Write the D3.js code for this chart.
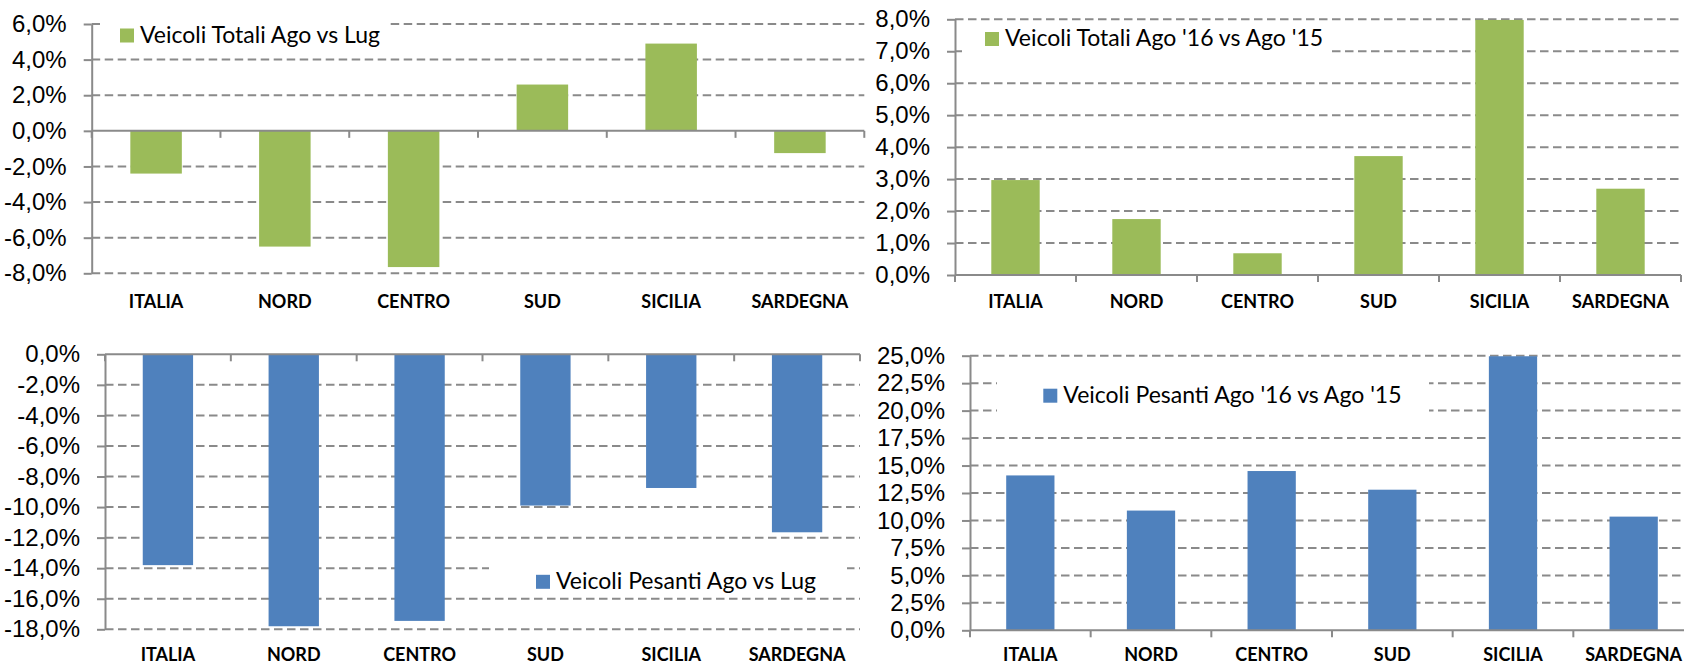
<!DOCTYPE html>
<html>
<head>
<meta charset="utf-8">
<script src="https://cdn.jsdelivr.net/npm/d3@7"></script>
<style>
  body { margin: 0; background: #fff; }
  svg { display: block; font-family: Lato, "Open Sans", sans-serif; }
</style>
</head>
<body>
<svg id="chart" width="1684" height="666"></svg>
<script>
// categories shared by all four panels
const categories = ['ITALIA', 'NORD', 'CENTRO', 'SUD', 'SICILIA', 'SARDEGNA'];

// series values (percent)
const totaliAgoLug = [-2.4, -6.5, -7.65, 2.6, 4.9, -1.25];
const totaliAgo16vs15 = [2.97, 1.75, 0.68, 3.72, 7.98, 2.7];
const pesantiAgoLug = [-13.8, -17.8, -17.45, -9.9, -8.75, -11.65];
const pesantiAgo16vs15 = [14.1, 10.9, 14.5, 12.8, 24.95, 10.35];

// y tick values
const ticksTotLug = [-8, -6, -4, -2, 0, 2, 4, 6];
const ticksTot1615 = [0, 1, 2, 3, 4, 5, 6, 7, 8];
const ticksPesLug = [-18, -16, -14, -12, -10, -8, -6, -4, -2, 0];
const ticksPes1615 = [0, 2.5, 5, 7.5, 10, 12.5, 15, 17.5, 20, 22.5, 25];

// legend labels
const legendTotLug = 'Veicoli Totali Ago vs Lug';
const legendTot1615 = "Veicoli Totali Ago '16 vs Ago '15";
const legendPesLug = 'Veicoli Pesanti Ago vs Lug';
const legendPes1615 = "Veicoli Pesanti Ago '16 vs Ago '15";

const GREEN = '#9bbb59';
const BLUE = '#4f81bd';
const GRID = '#8a8a8a';

const svg = d3.select('#chart');

function fmtPct(v) {
  return v.toFixed(1).replace('.', ',') + '%';
}

function drawPanel(cfg) {
  const g = svg.append('g').attr('class', 'panel');
  const x = d3.scaleBand()
    .domain(categories)
    .range([cfg.left, cfg.right])
    .paddingInner(0.6)
    .paddingOuter(0.3);
  const y = d3.scaleLinear()
    .domain(d3.extent(cfg.ticks))
    .range([cfg.bottom, cfg.top]);

  // dashed gridlines
  g.append('g').attr('class', 'grid')
    .selectAll('line')
    .data(cfg.ticks.filter(t => t !== 0))
    .enter().append('line')
    .attr('x1', cfg.left)
    .attr('x2', Math.min(cfg.right, 1684))
    .attr('y1', d => y(d))
    .attr('y2', d => y(d))
    .attr('stroke', GRID)
    .attr('stroke-width', 2)
    .attr('stroke-dasharray', '8.5,4.5');

  // bars
  g.append('g').attr('class', 'bars')
    .selectAll('rect')
    .data(cfg.values)
    .enter().append('rect')
    .attr('x', (d, i) => x(categories[i]))
    .attr('width', x.bandwidth())
    .attr('y', d => y(Math.max(0, d)))
    .attr('height', d => Math.abs(y(d) - y(0)))
    .attr('fill', cfg.color);

  // y axis
  const yAxis = d3.axisLeft(y)
    .tickValues(cfg.ticks)
    .tickFormat(fmtPct)
    .tickSize(8)
    .tickSizeOuter(0)
    .tickPadding(17);
  const ya = g.append('g')
    .attr('transform', `translate(${cfg.left},0)`)
    .call(yAxis);
  ya.select('.domain').attr('stroke', GRID).attr('stroke-width', 2);
  ya.selectAll('.tick line').attr('stroke', GRID).attr('stroke-width', 2);
  ya.selectAll('.tick text')
    .attr('fill', '#000')
    .style('font-size', '24px');

  // category axis on the zero line
  const y0 = y(0);
  g.append('line')
    .attr('x1', cfg.left)
    .attr('x2', cfg.right)
    .attr('y1', y0)
    .attr('y2', y0)
    .attr('stroke', GRID)
    .attr('stroke-width', 2);
  const bounds = categories.map(c => x(c) - (x.step() - x.bandwidth()) / 2)
    .concat([cfg.right]);
  g.append('g').selectAll('line')
    .data(bounds)
    .enter().append('line')
    .attr('x1', d => d)
    .attr('x2', d => d)
    .attr('y1', y0)
    .attr('y2', y0 + 7)
    .attr('stroke', GRID)
    .attr('stroke-width', 2);

  // category labels
  g.append('g').selectAll('text')
    .data(categories)
    .enter().append('text')
    .attr('x', d => x(d) + x.bandwidth() / 2)
    .attr('y', cfg.labelY)
    .attr('text-anchor', 'middle')
    .style('font-size', '18px')
    .style('font-weight', 'bold')
    .text(d => d);

  // legend with white background over the gridlines
  const lg = g.append('g').attr('class', 'legend');
  lg.append('rect')
    .attr('x', cfg.legend.box[0])
    .attr('y', cfg.legend.box[1])
    .attr('width', cfg.legend.box[2])
    .attr('height', cfg.legend.box[3])
    .attr('fill', '#fff');
  lg.append('rect')
    .attr('x', cfg.legend.x)
    .attr('y', cfg.legend.y - 14)
    .attr('width', 14)
    .attr('height', 14)
    .attr('fill', cfg.color);
  lg.append('text')
    .attr('x', cfg.legend.x + 20)
    .attr('y', cfg.legend.y)
    .style('font-size', '23px')
    .text(cfg.legend.label);
}

drawPanel({
  left: 91.7, right: 864.3, top: 24, bottom: 273.3,
  ticks: ticksTotLug, values: totaliAgoLug, color: GREEN, labelY: 308,
  legend: { label: legendTotLug, x: 120, y: 42.5, box: [100, 8, 288, 46] }
});
drawPanel({
  left: 955, right: 1681, top: 19.3, bottom: 275,
  ticks: ticksTot1615, values: totaliAgo16vs15, color: GREEN, labelY: 308,
  legend: { label: legendTot1615, x: 985, y: 46, box: [962, 24, 369, 46] }
});
drawPanel({
  left: 105, right: 860, top: 354.3, bottom: 629.3,
  ticks: ticksPesLug, values: pesantiAgoLug, color: BLUE, labelY: 661,
  legend: { label: legendPesLug, x: 536, y: 588.8, box: [489, 560, 358, 34] }
});
drawPanel({
  left: 970, right: 1694, top: 355.7, bottom: 630.3,
  ticks: ticksPes1615, values: pesantiAgo16vs15, color: BLUE, labelY: 661,
  legend: { label: legendPes1615, x: 1043.3, y: 402.7, box: [997, 370, 432, 56] }
});
</script>
</body>
</html>
